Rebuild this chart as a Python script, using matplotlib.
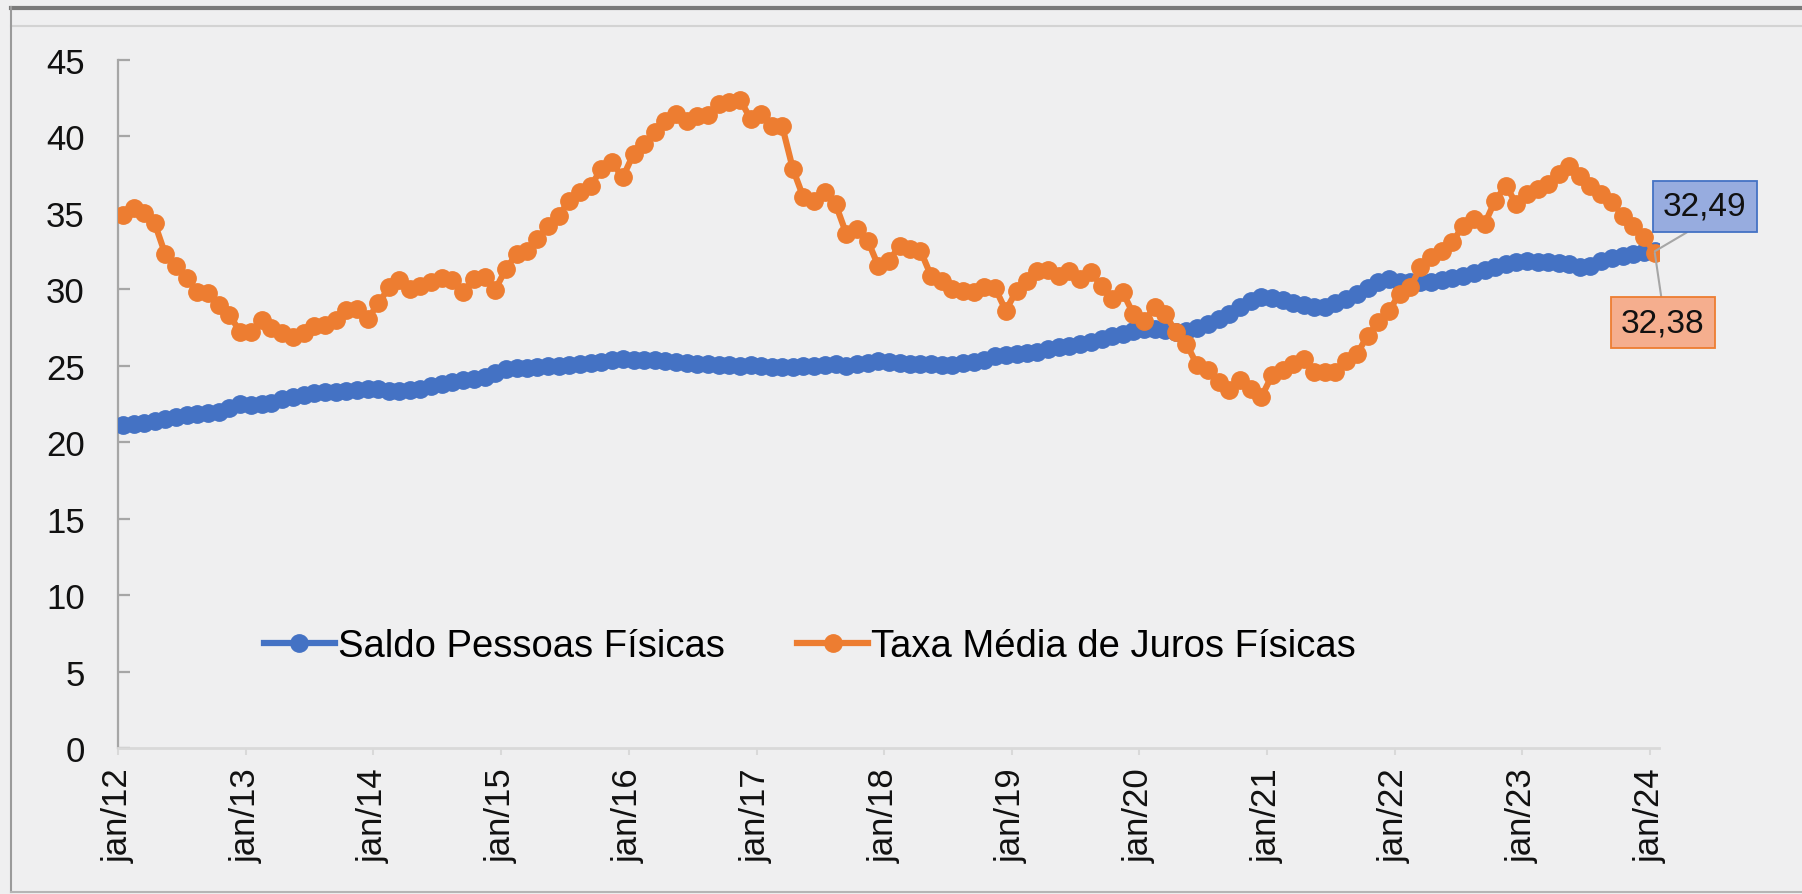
import numpy as np
import pandas as pd
import matplotlib
matplotlib.use('Agg')
import matplotlib.pyplot as plt
from matplotlib.lines import Line2D

# Monthly data, jan/12 .. jan/24 (145 months)
saldo_pf = [
    21.13, 21.17, 21.24, 21.41, 21.54, 21.67, 21.78, 21.87, 21.89, 21.98,
    22.22, 22.50, 22.44, 22.48, 22.59, 22.81, 22.98, 23.09, 23.20, 23.26,
    23.28, 23.33, 23.42, 23.46, 23.46, 23.37, 23.33, 23.39, 23.50, 23.68,
    23.79, 23.94, 24.07, 24.13, 24.24, 24.50, 24.80, 24.83, 24.87, 24.92,
    24.96, 25.00, 25.05, 25.09, 25.18, 25.26, 25.37, 25.44, 25.40, 25.40,
    25.40, 25.30, 25.22, 25.18, 25.13, 25.11, 25.07, 25.05, 25.00, 25.05,
    25.00, 24.92, 24.92, 24.90, 24.96, 25.00, 25.05, 25.09, 25.00, 25.11,
    25.18, 25.31, 25.26, 25.15, 25.11, 25.11, 25.09, 25.05, 25.05, 25.18,
    25.27, 25.35, 25.61, 25.70, 25.77, 25.83, 25.92, 26.10, 26.21, 26.32,
    26.45, 26.58, 26.75, 26.93, 27.10, 27.30, 27.40, 27.40, 27.32, 27.23,
    27.30, 27.45, 27.73, 28.06, 28.39, 28.83, 29.26, 29.48, 29.46, 29.30,
    29.11, 28.98, 28.82, 28.87, 29.11, 29.37, 29.70, 30.06, 30.45, 30.67,
    30.50, 30.45, 30.45, 30.50, 30.59, 30.72, 30.85, 31.07, 31.28, 31.46,
    31.63, 31.76, 31.85, 31.81, 31.76, 31.72, 31.65, 31.44, 31.50, 31.87,
    32.02, 32.15, 32.30, 32.42, 32.49,
]

taxa_juros_pf = [
    34.86, 35.30, 35.01, 34.32, 32.31, 31.53, 30.72, 29.85, 29.74, 28.98,
    28.32, 27.23, 27.23, 27.99, 27.45, 27.17, 26.90, 27.12, 27.60, 27.67,
    27.99, 28.65, 28.69, 28.04, 29.08, 30.13, 30.61, 30.00, 30.22, 30.50,
    30.72, 30.61, 29.85, 30.65, 30.83, 29.96, 31.35, 32.31, 32.53, 33.29,
    34.16, 34.82, 35.80, 36.34, 36.78, 37.87, 38.30, 37.32, 38.85, 39.50,
    40.27, 41.03, 41.46, 41.03, 41.36, 41.40, 42.12, 42.23, 42.40, 41.14,
    41.46, 40.70, 40.70, 37.87, 36.02, 35.80, 36.34, 35.58, 33.62, 33.95,
    33.19, 31.55, 31.88, 32.85, 32.64, 32.53, 30.90, 30.57, 30.03, 29.92,
    29.80, 30.13, 30.07, 28.61, 29.92, 30.57, 31.22, 31.29, 30.90, 31.22,
    30.68, 31.11, 30.24, 29.37, 29.80, 28.39, 27.95, 28.83, 28.39, 27.20,
    26.44, 25.02, 24.70, 23.93, 23.39, 24.04, 23.50, 22.95, 24.37, 24.75,
    25.11, 25.44, 24.57, 24.57, 24.61, 25.33, 25.77, 26.97, 27.84, 28.60,
    29.69, 30.13, 31.44, 32.09, 32.53, 33.07, 34.16, 34.60, 34.27, 35.80,
    36.78, 35.58, 36.23, 36.56, 36.89, 37.54, 38.09, 37.43, 36.78, 36.23,
    35.69, 34.82, 34.16, 33.40, 32.38,
]

year_labels = ['jan/12', 'jan/13', 'jan/14', 'jan/15', 'jan/16', 'jan/17', 'jan/18',
               'jan/19', 'jan/20', 'jan/21', 'jan/22', 'jan/23', 'jan/24']

label_saldo = 'Saldo Pessoas Físicas'
label_taxa = 'Taxa Média de Juros Físicas'

# dates (mid-month points)
dates = pd.date_range('2012-01-01', periods=len(saldo_pf), freq='MS') + pd.Timedelta(days=14)
year_ticks = pd.date_range('2012-01-01', periods=len(year_labels), freq='YS')

BLUE = '#4472C4'
ORANGE = '#ED7D31'
BG = '#efeff0'
FONT = 'Liberation Sans'

plt.rcParams['font.family'] = [FONT, 'DejaVu Sans']

fig = plt.figure(figsize=(18.02, 8.95), dpi=100, facecolor=BG)
W, H = 1802, 895

# frame decorations
fig.add_artist(Line2D([11 / W, 1], [1 - 8.5 / H, 1 - 8.5 / H], color='#7a7a7a', lw=3))
fig.add_artist(Line2D([11 / W, 1], [1 - 27 / H, 1 - 27 / H], color='#d3d3d3', lw=1.5))
fig.add_artist(Line2D([11 / W, 11 / W], [1 - 8 / H, 1 - 893 / H], color='#9a9a9a', lw=1.5))
fig.add_artist(Line2D([11 / W, 1], [1 - 893 / H, 1 - 893 / H], color='#b5b5b5', lw=1.5))

ax_left, ax_bottom = 118 / W, 1 - 749 / H
ax_right = 1659 / W
ax_top = 1 - 61 / H
ax = fig.add_axes([ax_left, ax_bottom, ax_right - ax_left, ax_top - ax_bottom])
ax.set_facecolor('none')

ax.plot(dates, saldo_pf, color=BLUE, lw=4.5, marker='o', ms=12.5,
        mec=BLUE, mfc=BLUE, label=label_saldo, zorder=3)
ax.plot(dates, taxa_juros_pf, color=ORANGE, lw=4.5, marker='o', ms=12.5,
        mec=ORANGE, mfc=ORANGE, label=label_taxa, zorder=4)

ax.set_ylim(0, 45)
ax.set_yticks(np.arange(0, 46, 5))
ax.set_xlim(pd.Timestamp('2012-01-01'), pd.Timestamp('2024-01-27'))
ax.set_xticks(year_ticks)
ax.set_xticklabels(year_labels, rotation=90, va='top', ha='center')

for side in ['top', 'right']:
    ax.spines[side].set_visible(False)
ax.spines['left'].set_color('#a6a6a6')
ax.spines['left'].set_linewidth(1.6)
ax.spines['bottom'].set_color('#d9d9d9')
ax.spines['bottom'].set_linewidth(2)

ax.tick_params(axis='y', direction='in', length=8.5, width=1.6, color='#a6a6a6',
               labelsize=25, pad=24, labelcolor='#111111')
ax.tick_params(axis='x', direction='out', length=5, width=1.5, color='#d9d9d9',
               labelsize=25, pad=9, labelcolor='#111111')

leg = ax.legend(loc='center', bbox_to_anchor=(0.449, 0.148), ncol=2, frameon=False,
                fontsize=27.5, handlelength=1.85, handletextpad=0.08, columnspacing=1.9,
                markerscale=1.0)

# data labels for the last points
ax.annotate(f'{saldo_pf[-1]:.2f}'.replace('.', ','), xy=(dates[-1], saldo_pf[-1]),
            xytext=(50, 45), textcoords='offset pixels', ha='center', va='center',
            fontsize=24, color='#111111', zorder=6,
            bbox=dict(boxstyle='square,pad=0.3', fc='#97acdf', ec=BLUE, lw=1.3),
            arrowprops=dict(arrowstyle='-', color='#a6a6a6', lw=1.5,
                            relpos=(0.5, 0.0), shrinkA=0, shrinkB=0))
ax.annotate(f'{taxa_juros_pf[-1]:.2f}'.replace('.', ','), xy=(dates[-1], taxa_juros_pf[-1]),
            xytext=(8, -70), textcoords='offset pixels', ha='center', va='center',
            fontsize=24, color='#111111', zorder=6,
            bbox=dict(boxstyle='square,pad=0.3', fc='#f5ae8e', ec=ORANGE, lw=1.3),
            arrowprops=dict(arrowstyle='-', color='#a6a6a6', lw=1.5,
                            relpos=(0.5, 1.0), shrinkA=0, shrinkB=0))

fig.savefig('out.png', dpi=100, facecolor=BG)
